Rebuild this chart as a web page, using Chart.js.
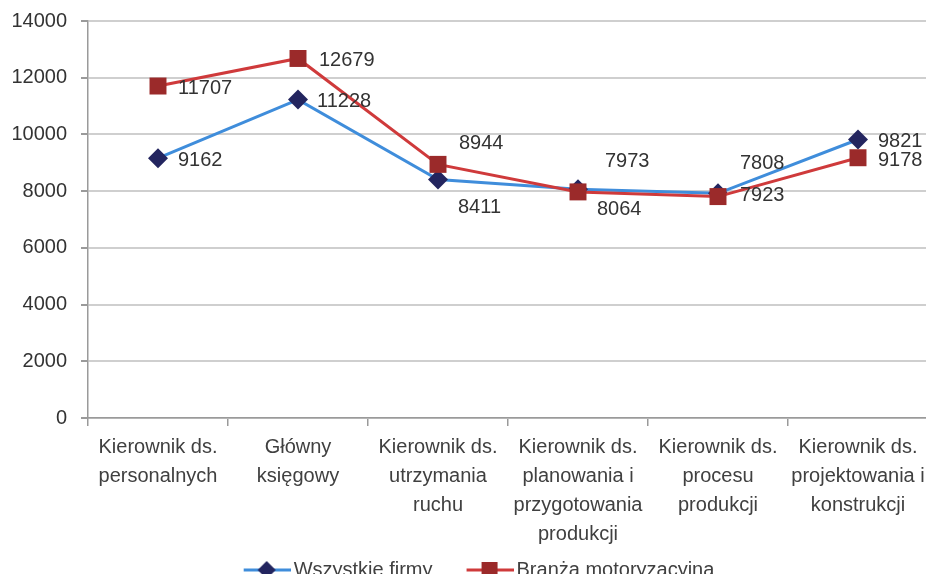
<!DOCTYPE html>
<html>
<head>
<meta charset="utf-8">
<script src="https://cdn.jsdelivr.net/npm/chart.js@4.4.0/dist/chart.umd.min.js"></script>
<style>
  html, body { margin: 0; padding: 0; background: #fff; }
  #wrap { width: 926px; height: 574px; overflow: hidden; position: relative; }
</style>
</head>
<body>
<div id="wrap">
  <canvas id="myChart" width="940" height="590" style="width:940px;height:590px"></canvas>
</div>
<script>
// categories (multi-line labels)
var categories = [
    ["Kierownik ds.", "personalnych"],
    ["Główny", "księgowy"],
    ["Kierownik ds.", "utrzymania", "ruchu"],
    ["Kierownik ds.", "planowania i", "przygotowania", "produkcji"],
    ["Kierownik ds.", "procesu", "produkcji"],
    ["Kierownik ds.", "projektowania i", "konstrukcji"]
];
var seriesNames = ["Wszystkie firmy", "Branża motoryzacyjna"];
var wszystkieFirmy = [9162, 11228, 8411, 8064, 7923, 9821];
var branzaMoto = [11707, 12679, 8944, 7973, 7808, 9178];
var yTicks = [0, 2000, 4000, 6000, 8000, 10000, 12000, 14000];

// where each value label sits relative to its point [dx, dy]
var labelOffsets = [
    [[20, 2], [19, 2], [20, 28], [19, 20], [22, 2], [20, 2]],
    [[20, 2], [21, 2], [21, -21], [27, -30], [22, -33], [20, 3]]
];

var sans = "'Liberation Sans', Arial, sans-serif";

var blueLine = '#3f8ddb', blueMark = '#23255f';
var redLine = '#cf3a3b', redMark = '#9b2a2a';

// legend icon: line with marker, drawn a bit wider than the legend box
function legendIcon(line, mark, shape) {
    var c = document.createElement('canvas');
    c.width = 78; c.height = 20;
    var g = c.getContext('2d');
    g.strokeStyle = line; g.lineWidth = 3;
    g.beginPath(); g.moveTo(31, 10); g.lineTo(78, 10); g.stroke();
    g.fillStyle = mark;
    if (shape === 'diamond') {
        g.beginPath(); g.moveTo(54, 1); g.lineTo(63, 10); g.lineTo(54, 19); g.lineTo(45, 10); g.closePath(); g.fill();
    } else {
        g.fillRect(46, 2, 16, 16);
    }
    return c;
}
var icons = [legendIcon(blueLine, blueMark, 'diamond'), legendIcon(redLine, redMark, 'square')];

var valueLabels = {
    id: 'valueLabels',
    afterDatasetsDraw: function(chart) {
        var ctx = chart.ctx;
        ctx.save();
        ctx.font = '20px ' + sans;
        ctx.fillStyle = '#333';
        ctx.textAlign = 'left';
        ctx.textBaseline = 'middle';
        chart.data.datasets.forEach(function(ds, i) {
            var meta = chart.getDatasetMeta(i);
            meta.data.forEach(function(pt, j) {
                var off = labelOffsets[i][j];
                ctx.fillText(String(ds.data[j]), pt.x + off[0], pt.y + off[1]);
            });
        });
        ctx.restore();
    }
};

var ctx = document.getElementById("myChart").getContext('2d');

var myChart = new Chart(ctx, {
    type: 'line',
    data: {
        labels: categories,
        datasets: [{
            label: seriesNames[0],
            data: wszystkieFirmy,
            borderColor: blueLine,
            borderWidth: 3,
            backgroundColor: blueMark,
            pointStyle: 'rectRot',
            pointRadius: 10,
            pointBorderWidth: 0,
            pointBackgroundColor: blueMark,
            tension: 0,
            order: 2
        }, {
            label: seriesNames[1],
            data: branzaMoto,
            borderColor: redLine,
            borderWidth: 3,
            backgroundColor: redMark,
            pointStyle: 'rect',
            pointRadius: 12,
            pointBorderWidth: 0,
            pointBackgroundColor: redMark,
            tension: 0,
            order: 1
        }]
    },
    options: {
        responsive: false,
        animation: false,
        layout: { padding: { top: 21, left: 0, right: 6, bottom: 0 } },
        scales: {
            x: {
                offset: true,
                grid: { offset: true, drawOnChartArea: false, tickLength: 8, color: '#9a9a9a', lineWidth: 1.5 },
                border: { color: '#9a9a9a', width: 1.5 },
                ticks: {
                    autoSkip: false, maxRotation: 0, padding: 7, color: '#404040',
                    font: { family: sans, size: 20, lineHeight: 1.45 }
                },
                afterFit: function(s) { s.height = 132; }
            },
            y: {
                min: 0, max: 14000,
                afterBuildTicks: function(s) { s.ticks = yTicks.map(function(v) { return { value: v }; }); },
                grid: { color: '#cfcfcf', lineWidth: 2, tickLength: 7, tickColor: '#9a9a9a' },
                border: { color: '#9a9a9a', width: 1.5 },
                ticks: {
                    padding: 14, color: '#333', font: { family: sans, size: 20 },
                    callback: function(v) { return String(v); }
                },
                afterFit: function(s) { s.width = 88; s.paddingTop = 0; s.paddingBottom = 0; }
            }
        },
        plugins: {
            tooltip: { enabled: false },
            legend: {
                position: 'bottom',
                labels: {
                    usePointStyle: true,
                    pointStyleWidth: 64,
                    padding: 10,
                    color: '#404040',
                    font: { family: sans, size: 20 },
                    generateLabels: function(chart) {
                        return chart.data.datasets.map(function(ds, i) {
                            return { text: ds.label, pointStyle: icons[i], fillStyle: ds.borderColor,
                                     strokeStyle: ds.borderColor, lineWidth: 0, datasetIndex: i, fontColor: '#404040' };
                        });
                    }
                }
            }
        }
    },
    plugins: [valueLabels]
});
</script>
</body>
</html>
